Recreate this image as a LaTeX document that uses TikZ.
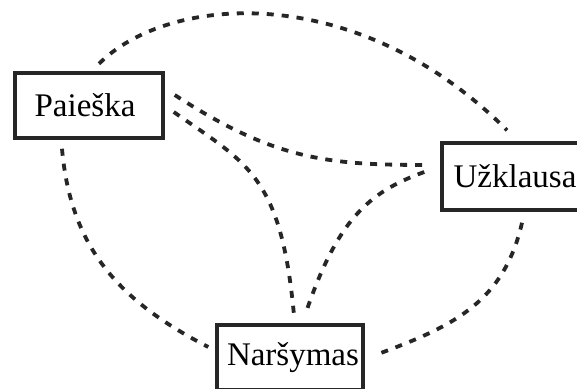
\documentclass[tikz,border=0pt]{standalone}
\usepackage{fontspec}
\setmainfont{Liberation Serif}
\usetikzlibrary{calc}
\begin{document}
\begin{tikzpicture}[x=1pt,y=1pt,
  box/.style={draw=black!85,line width=3.5pt,fill=white,inner sep=0pt,
    font=\fontsize{33}{36}\selectfont},
  conn/.style={draw=black!85,line width=3.8pt,dash pattern=on 7pt off 8pt}]
\useasboundingbox (0,0) rectangle (577,388);
\clip (0,0) rectangle (577,388);
\fill[white] (0,0) rectangle (577,388);
\node[box,minimum width=148pt,minimum height=65pt] (P) at (89,282.5) {Paieška\hspace*{8pt}};
\node[box,minimum width=146pt,minimum height=67pt] (U) at (515,211.5) {Užklausa};
\node[box,minimum width=146pt,minimum height=65pt] (N) at (290,30.5) {\hspace*{6pt}Naršymas};
% top arc P - U
\draw[conn] ($(P.north)+(10,7.5)$) .. controls +(70,70) and +(-150,150) .. ($(U.north)+(-8,11)$);
% P - U
\draw[conn] ($(P.east)+(10,10.5)$) .. controls +(100.6,-65.4) and +(-100,0) .. ($(U.west)+(-12,11.5)$);
% P - N
\draw[conn] ($(P.east)+(9,-6.5)$) .. controls +(73.7,-51.7) and +(-13,140) .. ($(N.north)+(4,8)$);
% U - N
\draw[conn] ($(U.west)+(-16,4.5)$) .. controls +(-56.4,-20.4) and +(32,95) .. ($(N.north)+(15,8)$);
% left arc P - N
\draw[conn] ($(P.south)+(-27,-9)$) .. controls +(8.7,-99.6) and +(-89,46) .. ($(N.west)+(-7,10.5)$);
% right arc U - N
\draw[conn] ($(U.south)+(7,-11)$) .. controls +(-18,-78) and +(75,27.8) .. ($(N.east)+(16,4.5)$);
\end{tikzpicture}
\end{document}
